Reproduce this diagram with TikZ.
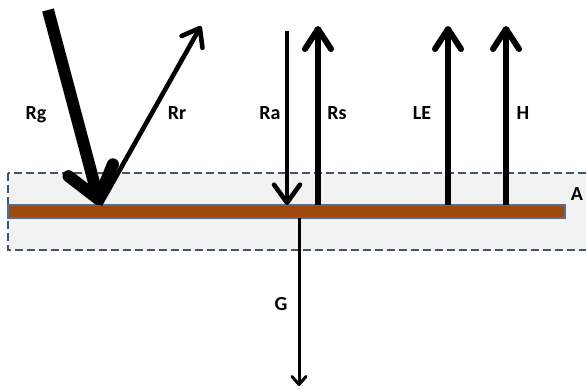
\documentclass[tikz,border=0pt]{standalone}
\usepackage{fontspec}
\setmainfont{Carlito}
\usetikzlibrary{arrows.meta}
\definecolor{soilbrown}{RGB}{158,72,14}
\definecolor{barline}{RGB}{84,110,150}
\definecolor{boxline}{RGB}{68,84,106}
\definecolor{boxfill}{RGB}{242,242,242}

\begin{document}
\begin{tikzpicture}[x=1pt,y=-1pt,
  bigflux/.style={line width=12pt,-{Straight Barb[length=30pt,width=46pt,round]}},
  flux/.style={line width=6pt,-{Straight Barb[length=20pt,width=26pt,round]}},
  thinflux/.style={line width=3pt,-{Straight Barb[length=8pt,width=14pt,round]}},
  lbl/.style={anchor=base,font=\fontsize{20}{24}\selectfont\bfseries}]
  \useasboundingbox (0,0) rectangle (586,389);
  % layer A
  \draw[boxline,fill=boxfill,line width=2.6pt,dash pattern=on 8pt off 4pt]
    (8,173) rectangle (592,250);
  \node[lbl] (A) at (577,200) {A};
  % surface
  \draw[barline,fill=soilbrown,line width=1.2pt] (8,205) rectangle (565,218);
  \coordinate (hit) at (100,205);
  \coordinate (gTop) at (48,10);
  \coordinate (rTop) at (201,26);
  \coordinate (aTop) at (287,31);
  \coordinate (aHit) at (287,205);
  \coordinate (sBot) at (318,205);
  \coordinate (sTop) at (318,26);
  \coordinate (eBot) at (448,205);
  \coordinate (eTop) at (448,26);
  \coordinate (hBot) at (506,205);
  \coordinate (hTop) at (506,26);
  \coordinate (gBot) at (299,218);
  \coordinate (gEnd) at (299,386);
  % global and reflected radiation
  \draw[bigflux] (gTop) -- (hit);
  \draw[line width=4.6pt,-{Straight Barb[length=16pt,width=24pt,round]}] (hit) -- (rTop);
  \node[lbl] (Rg) at (36,119) {Rg};
  \node[lbl] (Rr) at (177,119) {Rr};
  % longwave
  \draw[line width=4.6pt,-{Straight Barb[length=18pt,width=26pt,round]}] (aTop) -- (aHit);
  \draw[flux] (sBot) -- (sTop);
  \node[lbl] (Ra) at (270,119) {Ra};
  \node[lbl] (Rs) at (337,119) {Rs};
  % turbulent fluxes
  \draw[flux] (eBot) -- (eTop);
  \draw[flux] (hBot) -- (hTop);
  \node[lbl] (LE) at (422,119) {LE};
  \node[lbl] (H) at (523,119) {H};
  % ground flux
  \draw[thinflux] (gBot) -- (gEnd);
  \node[lbl] (G) at (281,310) {G};
\end{tikzpicture}
\end{document}
